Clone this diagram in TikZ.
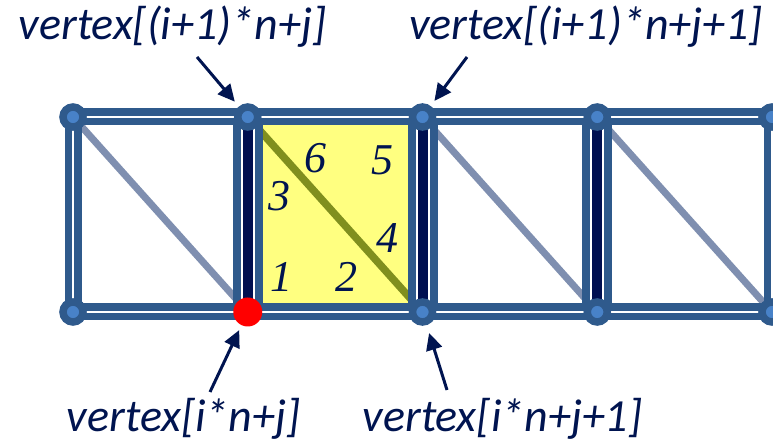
\documentclass[tikz,border=0pt]{standalone}
\usepackage{fontspec}
\newfontfamily\lblfont{Carlito}
\newfontfamily\numfont{Liberation Serif}
\usetikzlibrary{arrows.meta}
\definecolor{edgeblue}{RGB}{47,90,140}
\definecolor{dotinner}{RGB}{72,130,200}
\definecolor{navycore}{RGB}{0,15,80}
\definecolor{diaglight}{RGB}{127,143,176}
\definecolor{diagolive}{RGB}{128,143,30}
\definecolor{cellyellow}{RGB}{255,255,128}
\definecolor{textnavy}{RGB}{0,20,80}
\begin{document}
\begin{tikzpicture}[x=1pt,y=1pt,
  edgeouter/.style={line width=17pt, draw=edgeblue},
  edgegap/.style={line width=2.5pt, draw=white},
  wideouter/.style={line width=30pt, draw=edgeblue},
  widegap/.style={line width=14pt, draw=white},
  widecore/.style={line width=10pt, draw=navycore},
  lightdiag/.style={line width=7pt, draw=diaglight},
  olivediag/.style={line width=7.5pt, draw=diagolive},
  vdot/.style={circle, fill=dotinner, draw=edgeblue, line width=7.5pt, minimum size=20pt, inner sep=0pt},
  reddot/.style={circle, fill=red, minimum size=29pt, inner sep=0pt},
  lbl/.style={font=\lblfont\itshape\fontsize{46}{50}\selectfont, text=textnavy, inner sep=0pt, anchor=base},
  num/.style={font=\numfont\itshape\fontsize{44}{48}\selectfont, text=textnavy, inner sep=0pt},
  pointer/.style={draw=textnavy, line width=3pt, -{Triangle[length=17pt,width=16pt]}}
]
\useasboundingbox (0,0) rectangle (773,443);
\clip (0,0) rectangle (773,443);
\foreach \i/\x in {0/73,1/247.75,2/422.5,3/597.25,4/772}{
  \coordinate (T\i) at (\x,326);
  \coordinate (B\i) at (\x,131);
}
% highlighted cell
\fill[cellyellow] (T1) rectangle (B2);
% diagonals
\draw[lightdiag] (T0) -- (B1);
\draw[olivediag] (T1) -- (B2);
\draw[lightdiag] (T2) -- (B3);
\draw[lightdiag] (T3) -- (B4);
% vertical edges
\foreach \i in {0,4}{
  \draw[edgeouter] (T\i) -- (B\i);
  \draw[edgegap] (T\i) -- (B\i);
}
\foreach \i in {1,2,3}{
  \draw[wideouter] (T\i) -- (B\i);
  \draw[widegap] (T\i) -- (B\i);
  \draw[widecore] (T\i) -- (B\i);
}
% horizontal edges
\draw[edgeouter] (T0) -- (T4);
\draw[edgegap] (T0) -- (T4);
\draw[edgeouter] (B0) -- (B4);
\draw[edgegap] (B0) -- (B4);
% vertices
\foreach \i in {0,1,2,3,4}{
  \node[vdot] (t\i) at (T\i) {};
}
\foreach \i in {0,2,3,4}{
  \node[vdot] (b\i) at (B\i) {};
}
\node[reddot] (b1) at (B1) {};
% triangle indices
\node[num] (n6) at (315,285) {6};
\node[num] (n5) at (382,283) {5};
\node[num] (n3) at (279,247) {3};
\node[num] (n4) at (387,205) {4};
\node[num] (n1) at (281,166) {1};
\node[num] (n2) at (346,166) {2};
% labels
\node[lbl] (ltl) at (172.5,403) {vertex[(i+1)*n+j]};
\node[lbl] (ltr) at (586,403) {vertex[(i+1)*n+j+1]};
\node[lbl] (lbl1) at (183.5,11) {vertex[i*n+j]};
\node[lbl] (lbr) at (502.5,11) {vertex[i*n+j+1]};
% pointers
\coordinate (p1) at (197,386);
\coordinate (p2) at (467,386);
\coordinate (p3) at (210,51);
\coordinate (p4) at (447,53);
\draw[pointer, shorten >=20pt] (p1) -- (t1.center);
\draw[pointer, shorten >=20pt] (p2) -- (t2.center);
\draw[pointer, shorten >=20pt] (p3) -- (b1.center);
\draw[pointer, shorten >=22pt] (p4) -- (b2.center);
\end{tikzpicture}
\end{document}
